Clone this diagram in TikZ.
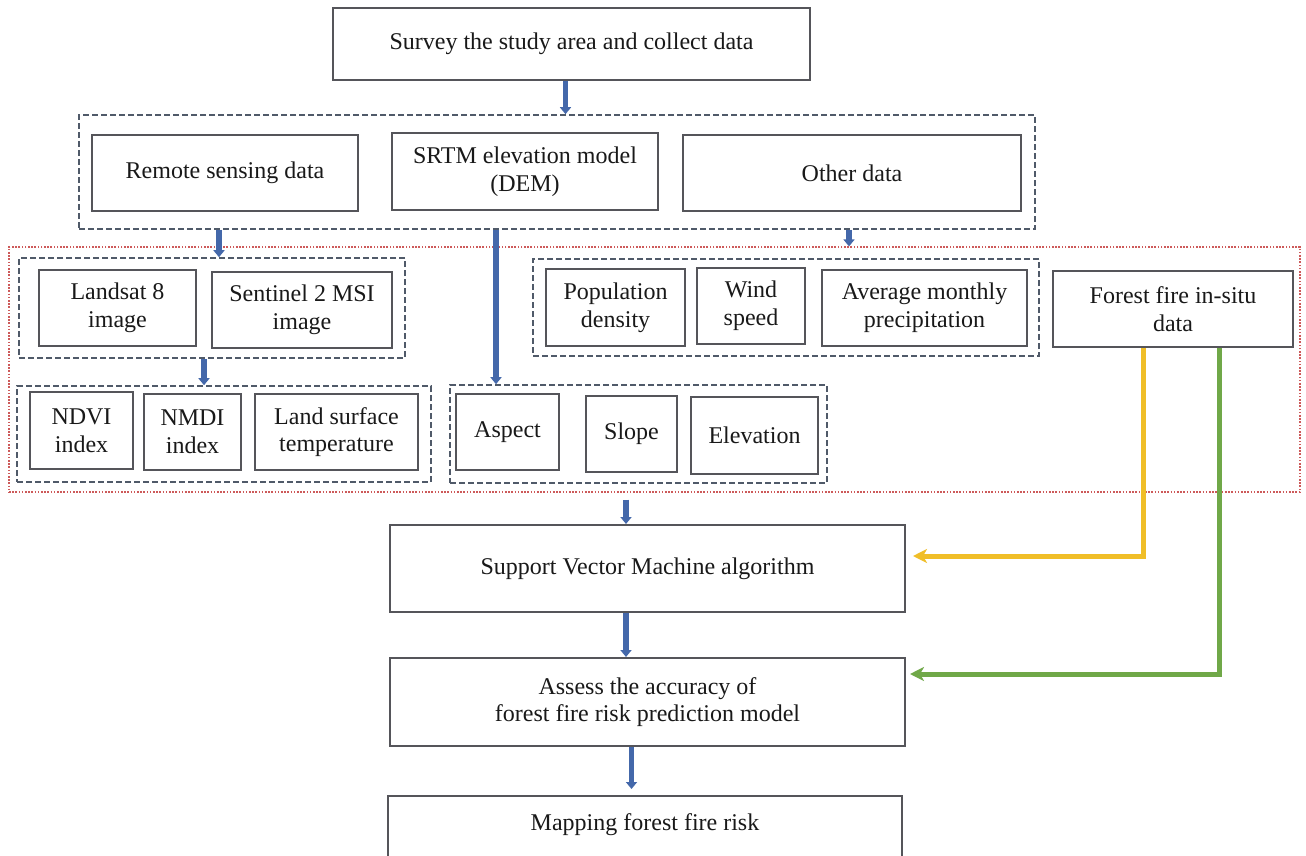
\documentclass[tikz,border=0pt]{standalone}
\usepackage{fontspec}
\setmainfont{Liberation Serif}
\usetikzlibrary{arrows.meta,fit,calc}
\definecolor{boxline}{RGB}{85,85,90}
\definecolor{dashline}{RGB}{80,90,105}
\definecolor{redline}{RGB}{205,90,90}
\definecolor{arrblue}{RGB}{68,104,170}
\definecolor{arryellow}{RGB}{240,190,40}
\definecolor{arrgreen}{RGB}{112,168,72}
\definecolor{txt}{RGB}{25,25,25}
\tikzset{
  box/.style={draw=boxline, line width=1pt, inner sep=0pt},
  lbl/.style={align=center, text=txt, inner sep=0pt, font=\fontsize{12}{13.8}\selectfont},
  grp/.style={draw=dashline, line width=0.8pt, dash pattern=on 3pt off 1.5pt, inner sep=0pt},
  redgrp/.style={draw=redline, line width=0.6pt, dash pattern=on 0.8pt off 0.8pt, inner sep=0pt},
  barrow/.style={draw=arrblue, line width=2.6pt, -{Triangle[width=5.5pt,length=3.5pt]}},
  yarrow/.style={draw=arryellow, line width=2.5pt, -{Stealth[width=7pt,length=7pt,inset=2pt]}},
  garrow/.style={draw=arrgreen, line width=2.5pt, -{Stealth[width=7pt,length=7pt,inset=2pt]}},
}
\newcommand{\tbox}[4]{%
  \node[box, fit={#2 #3}] (#1) {};
  \node[lbl] at (#1.center) {#4};}
\begin{document}
\begin{tikzpicture}[x=0.5pt,y=-0.5pt]
\path[use as bounding box] (0,0) rectangle (1306,856);
\clip (0,0) rectangle (1306,856);
\fill[white] (0,0) rectangle (1306,856);

% groups
\node[grp, fit={(79,115) (1035,229)}] (g1) {};
\node[redgrp, fit={(9,247) (1300,492)}] (red) {};
\node[grp, fit={(19,258) (405,358)}] (lg) {};
\node[grp, fit={(17,386) (431,482)}] (ng) {};
\node[grp, fit={(450,385) (827,483)}] (ag) {};
\node[grp, fit={(533,259) (1039,356)}] (pg) {};

% boxes
\tbox{top}{(333,8)}{(810,80)}{Survey the study area and collect data}
\tbox{rs}{(92,135)}{(358,211)}{Remote sensing data}
\tbox{srtm}{(392,133)}{(658,210)}{SRTM elevation model\\(DEM)}
\tbox{od}{(683,135)}{(1021,211)}{Other data}
\tbox{l8}{(39,270)}{(196,346)}{Landsat 8\\image}
\tbox{s2}{(212,272)}{(392,348)}{Sentinel 2 MSI\\image}
\tbox{ndvi}{(30,392)}{(133,469)}{NDVI\\index}
\tbox{nmdi}{(144,394)}{(241,470)}{NMDI\\index}
\tbox{lst}{(255,394)}{(418,470)}{Land surface\\temperature}
\tbox{asp}{(456,394)}{(559,470)}{Aspect}
\tbox{slope}{(586,396)}{(677,472)}{Slope}
\tbox{elev}{(691,397)}{(818,474)}{Elevation}
\tbox{pop}{(546,269)}{(685,346)}{Population\\density}
\tbox{wind}{(697,268)}{(805,344)}{Wind\\speed}
\tbox{avg}{(822,270)}{(1027,346)}{Average monthly\\precipitation}
\tbox{ff}{(1053,271)}{(1293,347)}{Forest fire in-situ\\data}
\tbox{svm}{(390,525)}{(905,612)}{Support Vector Machine algorithm}
\tbox{acc}{(390,658)}{(905,746)}{Assess the accuracy of\\forest fire risk prediction model}
\node[box, fit={(388,796) (902,870)}] (map) {};
\node[lbl] at (645,825) {Mapping forest fire risk};

% blue arrows
\draw[barrow] ([xshift=-3pt]top.south) -- ([xshift=-3pt]top.south |- g1.north);
\draw[barrow] ([xshift=-3pt]rs.south |- g1.south) -- ([xshift=-3pt]rs.south |- lg.north);
\draw[barrow] ([xshift=-14.5pt]srtm.south |- g1.south) -- ([xshift=-14.5pt]srtm.south |- ag.north);
\draw[barrow] ([xshift=-1.5pt]od.south |- g1.south) -- ([xshift=-1.5pt]od.south |- red.north);
\draw[barrow] ([xshift=-3.5pt]s2.south west |- lg.south) -- ([xshift=-3.5pt]s2.south west |- ng.north);
\draw[barrow] ([xshift=-10.75pt,yshift=-3.5pt]svm.north |- red.south) -- ([xshift=-10.75pt]svm.north);
\draw[barrow] ([xshift=-10.75pt]svm.south) -- ([xshift=-10.75pt]acc.north);
\draw[barrow] ([xshift=-8pt]acc.south) -- ([xshift=-8pt,yshift=3pt]acc.south |- map.north);

% side arrows
\draw[yarrow, shorten >=3.5pt] ([xshift=-15pt]ff.south) |- ([yshift=6.25pt]svm.east);
\draw[garrow, shorten >=2pt] ([xshift=23pt]ff.south) |- ([yshift=14pt]acc.east);
\end{tikzpicture}
\end{document}
